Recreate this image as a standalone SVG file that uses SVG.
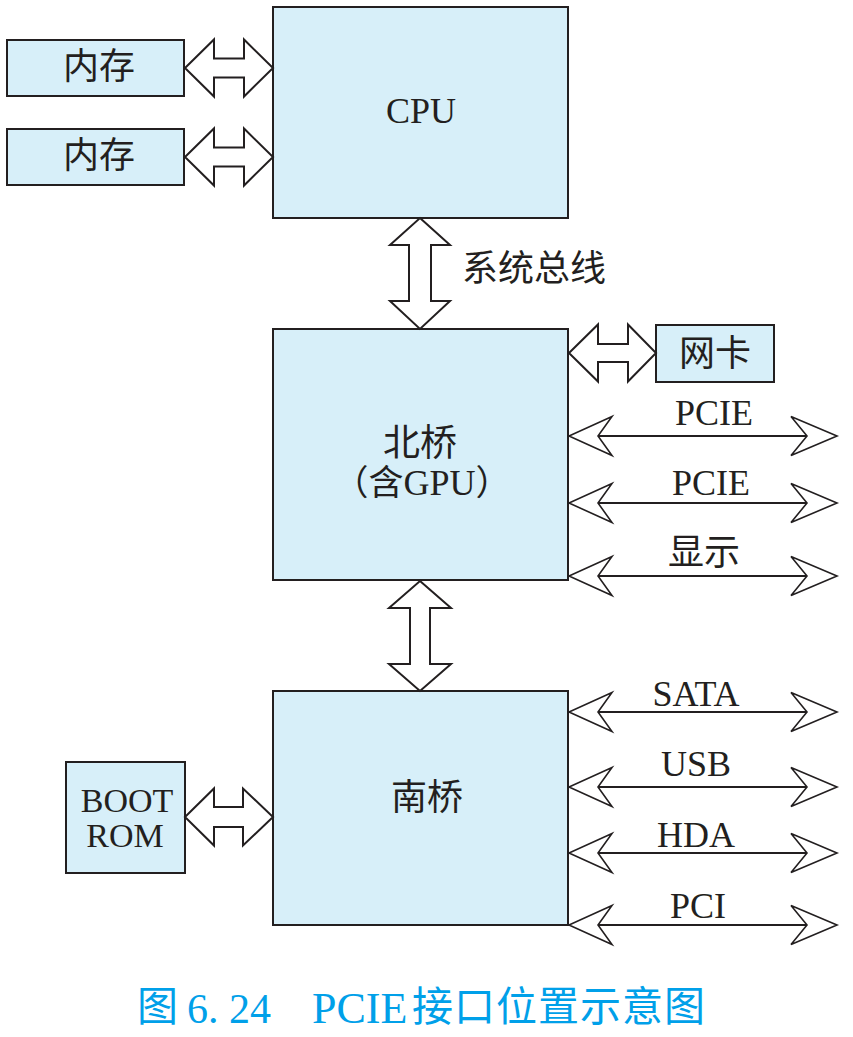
<svg xmlns="http://www.w3.org/2000/svg" width="853" height="1037" viewBox="0 0 853 1037">
<style>
.box{fill:#d7eff9;stroke:#231f20;stroke-width:2}
.blk{fill:#fff;stroke:#231f20;stroke-width:2;stroke-linejoin:miter}
.ln{stroke:#231f20;stroke-width:2;fill:none}
.hd{fill:#fff;stroke:#231f20;stroke-width:1.6;stroke-linejoin:miter}
.lat{font-family:"Liberation Serif","Times New Roman",serif;font-size:36px;fill:#231f20}
.cjk{font-family:"Noto Sans CJK SC","Noto Sans CJK JP",sans-serif;font-size:36px;fill:#231f20}
.cap{fill:#00a0e9}
</style>
<rect width="853" height="1037" fill="#fff"/>

<g id="mem1"><rect class="box" x="7" y="40" width="177" height="56"/><text class="cjk" x="99" y="79" text-anchor="middle">内存</text></g>
<g id="mem2"><rect class="box" x="7" y="129" width="177" height="56"/><text class="cjk" x="99" y="168" text-anchor="middle">内存</text></g>
<g id="cpu"><rect class="box" x="273" y="7" width="295" height="211"/><text class="lat" x="421" y="123" text-anchor="middle">CPU</text></g>
<g id="northbridge"><rect class="box" x="273" y="329" width="295" height="251"/>
<text class="cjk" x="420" y="456" text-anchor="middle" style="font-size:37px">北桥</text>
<text x="422" y="495" text-anchor="middle"><tspan class="cjk" style="font-size:35px">（含</tspan><tspan class="lat">GPU</tspan><tspan class="cjk" style="font-size:35px">）</tspan></text></g>
<g id="nic"><rect class="box" x="656" y="325" width="118" height="57"/><text class="cjk" x="715" y="366" text-anchor="middle">网卡</text></g>
<g id="southbridge"><rect class="box" x="273" y="691" width="295" height="234"/><text class="cjk" x="427" y="810" text-anchor="middle">南桥</text></g>
<g id="bootrom"><rect class="box" x="66" y="762" width="119" height="111"/>
<text class="lat" x="127" y="812" text-anchor="middle" style="font-size:34px">BOOT</text><text class="lat" x="125" y="847" text-anchor="middle" style="font-size:34px">ROM</text></g>

<g id="connectors">
<path class="blk" d="M185,68 L214,39.5 L214,58.5 L244,58.5 L244,39.5 L273,68 L244,96.5 L244,77.5 L214,77.5 L214,96.5 Z"/>
<path class="blk" d="M185,157 L214,128.5 L214,147.5 L244,147.5 L244,128.5 L273,157 L244,185.5 L244,166.5 L214,166.5 L214,185.5 Z"/>
<path class="blk" d="M185,817 L214,788.5 L214,807 L243,807 L243,788.5 L273,817 L243,845.5 L243,827 L214,827 L214,845.5 Z"/>
<path class="blk" d="M569,353 L598,324.5 L598,344 L628,344 L628,324.5 L656,353 L628,381.5 L628,362 L598,362 L598,381.5 Z"/>
<path class="blk" d="M420,218 L450,245 L431,245 L431,301 L450,301 L420,329 L390,301 L409,301 L409,245 L390,245 Z"/>
<path class="blk" d="M420,581 L451,608 L430,608 L430,664 L451,664 L420,691 L389,664 L410,664 L410,608 L389,608 Z"/>

<g id="busPCIE1"><line class="ln" x1="598" y1="436" x2="807" y2="436"/><path class="hd" d="M612,416.5 L569,436 L612,455.5 L598,436 Z"/><path class="hd" d="M791,416.5 L837,436 L791,455.5 L807,436 Z"/></g>
<g id="busPCIE2"><line class="ln" x1="598" y1="503" x2="807" y2="503"/><path class="hd" d="M612,483.5 L569,503 L612,522.5 L598,503 Z"/><path class="hd" d="M791,483.5 L837,503 L791,522.5 L807,503 Z"/></g>
<g id="busDisp"><line class="ln" x1="598" y1="576" x2="807" y2="576"/><path class="hd" d="M612,556.5 L569,576 L612,595.5 L598,576 Z"/><path class="hd" d="M791,556.5 L837,576 L791,595.5 L807,576 Z"/></g>
<g id="busSATA"><line class="ln" x1="598" y1="712" x2="807" y2="712"/><path class="hd" d="M612,692.5 L569,712 L612,731.5 L598,712 Z"/><path class="hd" d="M791,692.5 L837,712 L791,731.5 L807,712 Z"/></g>
<g id="busUSB"><line class="ln" x1="598" y1="787" x2="807" y2="787"/><path class="hd" d="M612,767.5 L569,787 L612,806.5 L598,787 Z"/><path class="hd" d="M791,767.5 L837,787 L791,806.5 L807,787 Z"/></g>
<g id="busHDA"><line class="ln" x1="598" y1="853" x2="807" y2="853"/><path class="hd" d="M612,833.5 L569,853 L612,872.5 L598,853 Z"/><path class="hd" d="M791,833.5 L837,853 L791,872.5 L807,853 Z"/></g>
<g id="busPCI"><line class="ln" x1="598" y1="925" x2="807" y2="925"/><path class="hd" d="M612,905.5 L569,925 L612,944.5 L598,925 Z"/><path class="hd" d="M791,905.5 L837,925 L791,944.5 L807,925 Z"/></g>

<text class="cjk" x="462" y="281">系统总线</text>
<text class="lat" x="714" y="425" text-anchor="middle">PCIE</text>
<text class="lat" x="711" y="495" text-anchor="middle">PCIE</text>
<text class="cjk" x="704" y="565" text-anchor="middle">显示</text>
<text class="lat" x="696" y="706" text-anchor="middle">SATA</text>
<text class="lat" x="696" y="776" text-anchor="middle">USB</text>
<text class="lat" x="696" y="847" text-anchor="middle">HDA</text>
<text class="lat" x="698" y="918" text-anchor="middle">PCI</text>
</g>

<g id="caption">
<text class="cjk cap" x="137" y="1021" style="font-size:41px">图</text>
<text class="lat cap" x="187" y="1023" style="font-size:42px">6. 24</text>
<text class="lat cap" x="312" y="1023" style="font-size:44px">PCIE</text>
<text class="cjk cap" x="412" y="1021" style="font-size:41px;letter-spacing:1px">接口位置示意图</text>
</g>
</svg>
